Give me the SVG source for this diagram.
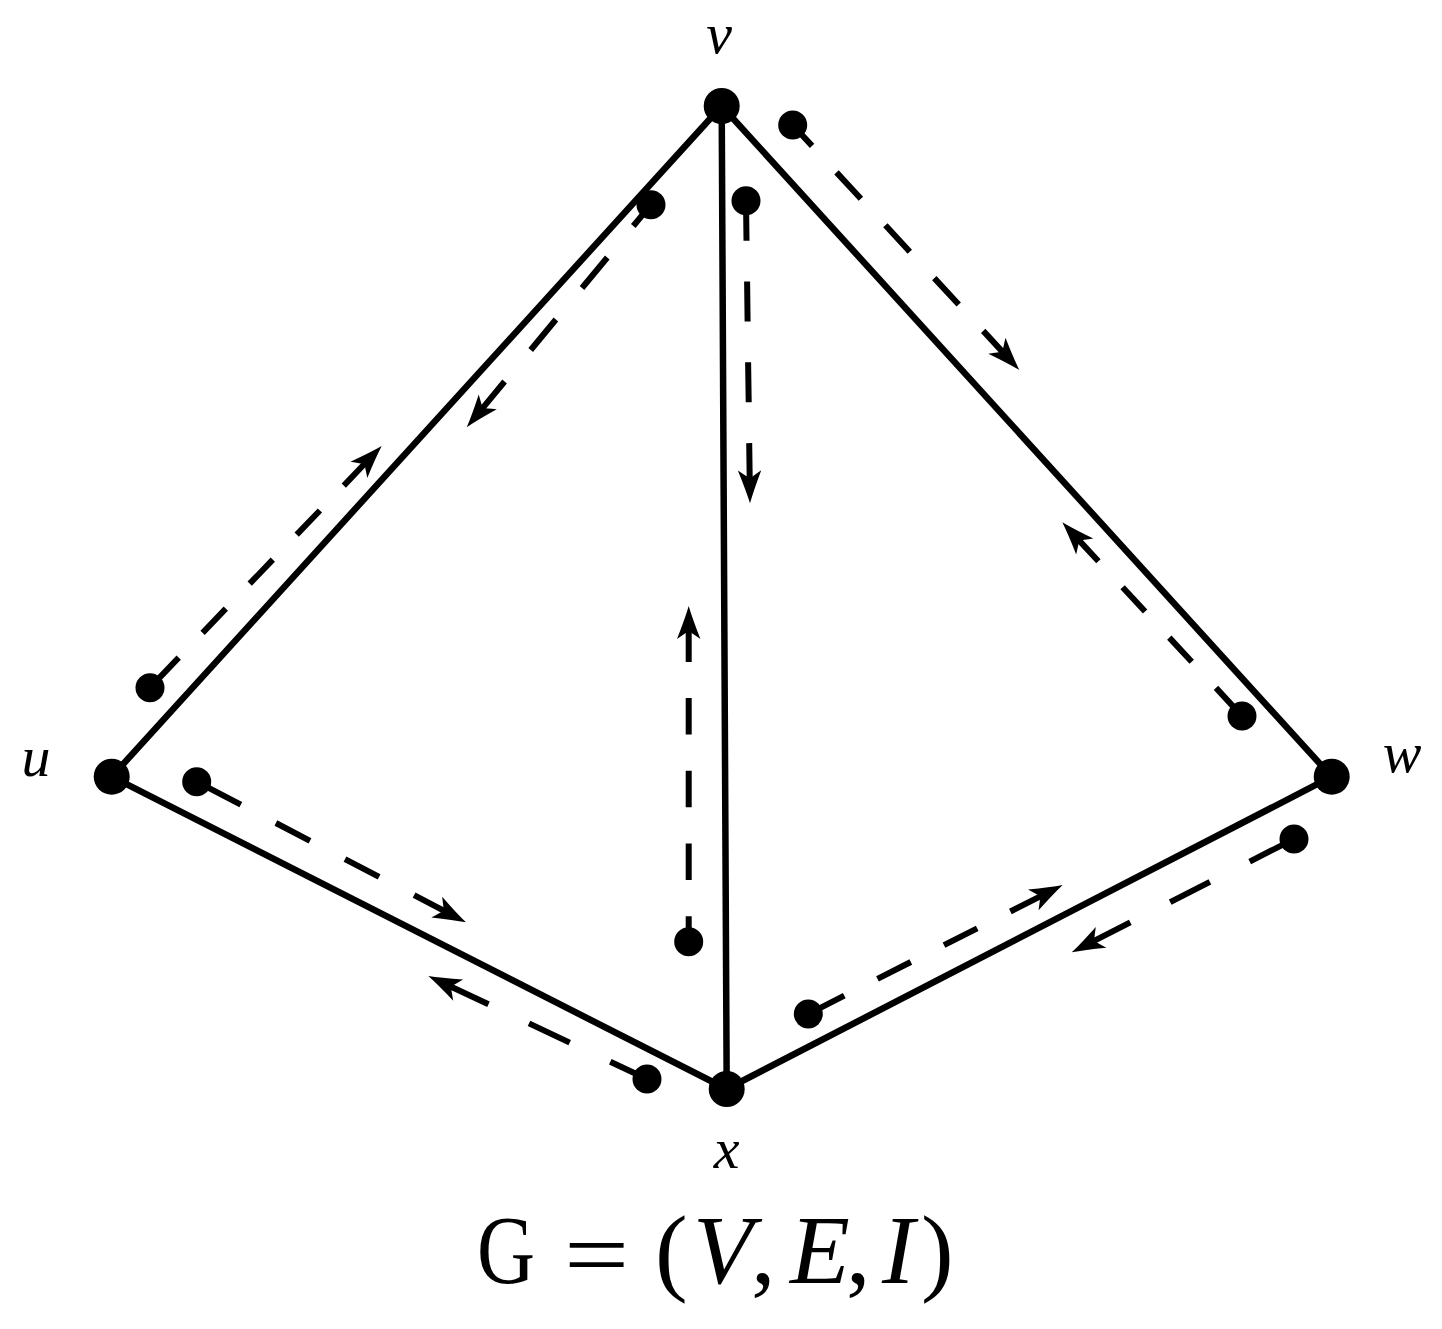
<svg xmlns="http://www.w3.org/2000/svg" width="1442" height="1329" viewBox="0 0 1442 1329">
<style>
.edge{stroke:#000;stroke-width:6.5;fill:none;stroke-linecap:round}
.dash{stroke:#000;stroke-width:6;fill:none;stroke-linecap:butt}
.node{fill:#000}
.dot{fill:#000}
.lbl{font-family:"Liberation Serif","Times New Roman",serif;font-style:italic;font-size:58px;fill:#000;text-anchor:middle}
.cap{font-family:"Liberation Serif","Times New Roman",serif;font-size:98px;fill:#000}
</style>
<defs>
<path id="ah" d="M0,0 Q-12,-3.5 -33,-11.7 Q-27,-3 -25,0 Q-27,3 -33,11.7 Q-12,3.5 0,0 Z" fill="#000"/>
</defs>
<rect width="1442" height="1329" fill="#fff"/>
<g id="edges">
<line class="edge" x1="721.7" y1="106" x2="111.7" y2="776.7"/>
<line class="edge" x1="721.7" y1="106" x2="1331.7" y2="776.7"/>
<line class="edge" x1="721.7" y1="106" x2="726.7" y2="1089"/>
<line class="edge" x1="111.7" y1="776.7" x2="726.7" y2="1089"/>
<line class="edge" x1="726.7" y1="1089" x2="1331.7" y2="776.7"/>
</g>
<g id="connectors">
<g id="a-ux">
<path class="dash" d="M206.7,786.9L240.8,804.7M275.9,823L310,840.9M345,859.1L379.1,876.9M414.1,895.2L444.7,911.2"/>
<use href="#ah" transform="translate(466,922.3) rotate(27.57)"/>
<circle class="dot" cx="196.7" cy="781.7" r="14.5"/>
</g>
<g id="a-vx">
<path class="dash" d="M746,200.7L746.5,240.7M747.1,281.5L747.6,321.5M748.1,362.3L748.7,402.3M749.2,443.1L749.7,479.3"/>
<use href="#ah" transform="translate(750,503.3) rotate(89.24)"/>
<circle class="dot" cx="746" cy="200.7" r="14.5"/>
</g>
<g id="a-xv">
<path class="dash" d="M688.7,941.7L688.7,916.2M688.7,880L688.7,843.5M688.7,807.3L688.7,770.8M688.7,734.6L688.7,698.1M688.7,661.9L688.7,630"/>
<use href="#ah" transform="translate(688.7,606) rotate(-90)"/>
<circle class="dot" cx="688.7" cy="941.7" r="14.5"/>
</g>
<g id="a-uv">
<path class="dash" d="M155.5,681.9L178.7,657.7M202.6,632.8L225.8,608.7M249.7,583.7L272.8,559.6M296.7,534.7L319.9,510.5M343.8,485.6L365.1,463.3"/>
<use href="#ah" transform="translate(381.7,446) rotate(-46.2)"/>
<circle class="dot" cx="150" cy="687.7" r="14.5"/>
</g>
<g id="a-vu">
<path class="dash" d="M651,204.7L633.3,226M607.3,257.5L582,288M555.9,319.5L530.7,350M504.6,381.5L482,408.8"/>
<use href="#ah" transform="translate(466.7,427.3) rotate(129.62)"/>
<circle class="dot" cx="651" cy="204.7" r="14.5"/>
</g>
<g id="a-vw">
<path class="dash" d="M792.7,125L812.1,145.9M836.5,172.4L860.9,198.8M885.4,225.2L909.8,251.7M934.3,278.1L958.7,304.5M983.2,330.9L1003,352.4"/>
<use href="#ah" transform="translate(1019.3,370) rotate(47.24)"/>
<circle class="dot" cx="792.7" cy="125" r="14.5"/>
</g>
<g id="a-wv">
<path class="dash" d="M1238.4,712.1L1216,687.9M1191.7,661.8L1169.3,637.6M1145.1,611.5L1122.6,587.3M1098.4,561.2L1078.6,539.9"/>
<use href="#ah" transform="translate(1062.3,522.3) rotate(-132.85)"/>
<circle class="dot" cx="1242" cy="716" r="14.5"/>
</g>
<g id="a-wx">
<path class="dash" d="M1289.5,841.3L1249.7,861.6M1209.9,881.9L1170.2,902.1M1130.3,922.4L1093.1,941.4"/>
<use href="#ah" transform="translate(1071.7,952.3) rotate(153)"/>
<circle class="dot" cx="1294" cy="839" r="14.5"/>
</g>
<g id="a-xu">
<path class="dash" d="M647,1079L610.3,1061.7M569.7,1042.6L529,1023.4M488.5,1004.3L450,986.2"/>
<use href="#ah" transform="translate(428.3,976) rotate(-154.78)"/>
<circle class="dot" cx="647" cy="1079" r="14.5"/>
</g>
<g id="a-xw">
<path class="dash" d="M811.1,1012.6L844.3,995.7M877.5,978.9L910.8,962M944,945.2L977.2,928.3M1010.4,911.5L1041.3,895.9"/>
<use href="#ah" transform="translate(1062.7,885) rotate(-26.89)"/>
<circle class="dot" cx="808.3" cy="1014" r="14.5"/>
</g>
</g>
<g id="node-v"><circle class="node" cx="721.7" cy="106" r="18"/><text class="lbl" x="719" y="53">v</text></g>
<g id="node-u"><circle class="node" cx="111.7" cy="776.7" r="18"/><text class="lbl" x="36" y="776">u</text></g>
<g id="node-w"><circle class="node" cx="1331.7" cy="776.7" r="18"/><text class="lbl" x="1402" y="772">w</text></g>
<g id="node-x"><circle class="node" cx="726.7" cy="1089" r="18"/><text class="lbl" x="726.5" y="1168">x</text></g>
<g id="caption">
<text class="cap" transform="translate(477,1283) scale(0.82,1)">G</text>
<text class="cap" transform="translate(564,1287) scale(1.18,1)">=</text>
<text class="cap" y="1283"><tspan x="655">(</tspan><tspan x="693" font-style="italic">V</tspan><tspan x="751">,</tspan><tspan x="790" font-style="italic">E</tspan><tspan x="846">,</tspan><tspan x="882" font-style="italic">I</tspan><tspan x="921">)</tspan></text>
</g>
</svg>
